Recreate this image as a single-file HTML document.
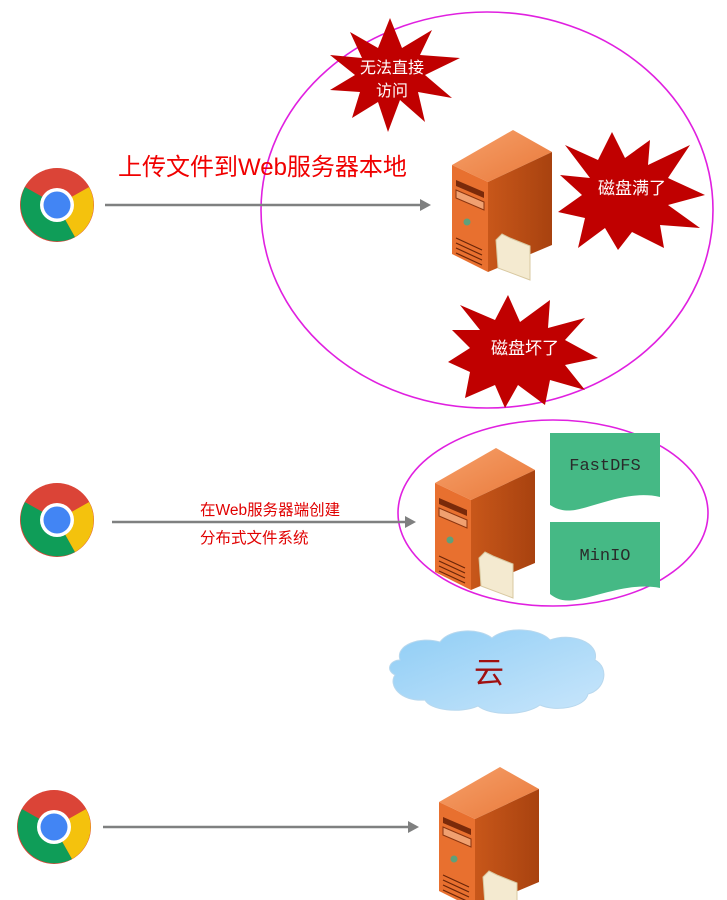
<!DOCTYPE html>
<html><head><meta charset="utf-8"><style>
body{margin:0;background:#fff;width:727px;height:900px;overflow:hidden}
svg{display:block}
text{font-family:"Liberation Sans","Noto Sans CJK SC",sans-serif}
</style></head><body>
<svg width="727" height="900" viewBox="0 0 727 900">
<defs>
<linearGradient id="tp" x1="0" y1="0" x2="1" y2="1"><stop offset="0" stop-color="#f6a06a"/><stop offset="1" stop-color="#e9793a"/></linearGradient>
<linearGradient id="rt" x1="0" y1="0" x2="1" y2="0"><stop offset="0" stop-color="#c8571a"/><stop offset="1" stop-color="#a8420f"/></linearGradient>
<linearGradient id="cl" x1="0" y1="0" x2="1" y2="1"><stop offset="0" stop-color="#8fcdf5"/><stop offset="1" stop-color="#c9e6fb"/></linearGradient>
<g id="srv">
<polygon points="2,37 63,2 102,24 38,54" fill="url(#tp)"/>
<polygon points="38,54 102,24 102,117 38,144" fill="url(#rt)"/>
<polygon points="2,37 38,54 38,144 2,126" fill="#e8702f"/>
<polygon points="6,52 34,64 34,70 6,58" fill="#7a2a0a"/>
<polygon points="6,62 34,74 34,82 6,70" fill="#f0a070" stroke="#8a3510" stroke-width="1"/>
<circle cx="17" cy="94" r="3.5" fill="#5fa07a"/>
<path d="M6,110 L32,122 M6,115 L32,127 M6,120 L32,132 M6,125 L32,137" stroke="#6a2508" stroke-width="1.2"/>
<polygon points="46,112 52,106 60,110 80,118 80,152 48,140" fill="#f4ead0" stroke="#d8c8a0" stroke-width="1"/>
</g>
<g id="chr">
<circle r="37" fill="#db4437"/>
<path d="M0,0 L-32,-18 A37,37 0 0 0 18,32 Z" fill="#0f9d58"/>
<path d="M0,0 L18,32 A37,37 0 0 0 32,-18 Z" fill="#f4c20d"/>
<path d="M0,0 L32,-18 A37,37 0 0 0 -32,-18 Z" fill="#db4437"/>
<circle r="17" fill="#fff"/><circle r="13.5" fill="#4285f4"/>
</g>
</defs>

<ellipse cx="487" cy="210" rx="226" ry="198" fill="none" stroke="#e020e0" stroke-width="1.6"/>
<ellipse cx="553" cy="513" rx="155" ry="93" fill="none" stroke="#e020e0" stroke-width="1.6"/>

<use href="#chr" x="57" y="205"/>
<use href="#chr" x="57" y="520"/>
<use href="#chr" x="54" y="827"/>

<g stroke="#7f8080" stroke-width="2.5" fill="none">
<line x1="105" y1="205" x2="428" y2="205"/>
<line x1="112" y1="522" x2="413" y2="522"/>
<line x1="103" y1="827" x2="416" y2="827"/>
</g>
<g fill="#7f8080">
<path d="M420,199 L431,205 L420,211 Z"/>
<path d="M405,516 L416,522 L405,528 Z"/>
<path d="M408,821 L419,827 L408,833 Z"/>
</g>

<text x="118" y="175" font-size="24" fill="#f00000">上传文件到Web服务器本地</text>
<text x="200" y="515" font-size="15.5" fill="#e00000">在Web服务器端创建</text>
<text x="200" y="543" font-size="15.5" fill="#e00000">分布式文件系统</text>

<use href="#srv" x="450" y="128"/>
<use href="#srv" x="433" y="446"/>
<use href="#srv" x="437" y="765"/>

<polygon points="390,18 402,48 432,30 420,55 460,58 425,75 452,98 418,92 425,122 400,100 388,132 378,102 352,118 360,92 330,90 355,75 330,55 362,58 350,32 378,48" fill="#c00000"/>
<text x="392" y="73" font-size="16" fill="#fff" text-anchor="middle">无法直接</text>
<text x="392" y="96" font-size="16" fill="#fff" text-anchor="middle">访问</text>

<polygon points="565,145 598,160 612,132 625,158 650,140 648,165 690,145 668,178 705,195 668,205 700,228 660,225 664,248 632,232 618,250 605,228 578,248 585,218 558,212 582,195 560,175 590,178" fill="#c00000"/>
<text x="632" y="194" font-size="17" fill="#fff" text-anchor="middle">磁盘满了</text>

<polygon points="460,305 495,320 508,295 520,322 550,300 548,328 585,318 565,340 598,358 565,365 585,390 550,380 545,405 518,385 505,408 495,385 465,398 470,372 448,362 470,348 452,330 480,330" fill="#c00000"/>
<text x="525" y="354" font-size="17" fill="#fff" text-anchor="middle">磁盘坏了</text>

<path d="M550,433 L660,433 L660,497 C630,490 600,505 575,510 C562,512 555,508 550,505 Z" fill="#45b985"/>
<path d="M550,522 L660,522 L660,588 C630,582 600,596 575,600 C562,602 555,598 550,594 Z" fill="#45b985"/>
<text x="605" y="470" font-size="17" style="font-family:'Liberation Mono',monospace" fill="#2a2a2a" text-anchor="middle">FastDFS</text>
<text x="605" y="560" font-size="17" style="font-family:'Liberation Mono',monospace" fill="#2a2a2a" text-anchor="middle">MinIO</text>

<path d="M400,660 C395,645 420,636 440,642 C450,628 480,628 492,638 C505,626 540,628 550,640 C570,632 600,642 595,660 C610,668 605,690 588,694 C585,708 555,712 540,705 C525,716 490,716 478,706 C460,714 430,710 425,700 C400,702 388,685 395,675 C385,670 390,660 400,660 Z" fill="url(#cl)" stroke="#b8d8ee" stroke-width="1"/>
<text x="489" y="683" font-size="30" fill="#a01010" text-anchor="middle">云</text>
</svg>
</body></html>
